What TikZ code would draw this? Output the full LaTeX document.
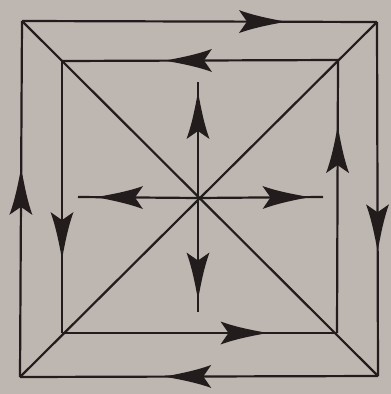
\documentclass[tikz,border=0pt]{standalone}
\usetikzlibrary{decorations.markings}
\definecolor{bg}{RGB}{190,182,176}
\definecolor{ink}{RGB}{34,28,28}
\tikzset{
  ln/.style={draw=ink, line width=2.2pt},
  dartat/.style={postaction={decorate, decoration={markings,
     mark=at position #1 with {\fill[ink] (24,0) .. controls (8,3) and (-8,6) .. (-23,11.5)
        -- (-15,0) -- (-23,-11.5) .. controls (-8,-6) and (8,-3) .. (24,0) -- cycle;}}}}
}
\begin{document}
\begin{tikzpicture}[x=1pt,y=-1pt]
\fill[bg] (0,0) rectangle (391,394);
\useasboundingbox (0,0) rectangle (391,394);
% outer corners
\coordinate (OTL) at (22,21);
\coordinate (OTR) at (377,22);
\coordinate (OBR) at (378,376);
\coordinate (OBL) at (20,377);
% inner corners
\coordinate (ITL) at (62,61);
\coordinate (ITR) at (338,60);
\coordinate (IBR) at (337,333);
\coordinate (IBL) at (62,333);
% centre and cross ends
\coordinate (C) at (198,198);
\coordinate (CU) at (198,82);
\coordinate (CD) at (198,312);
\coordinate (CL) at (78,197);
\coordinate (CR) at (323,197);
% diagonals
\draw[ln] (OTL) -- (OBR);
\draw[ln] (OTR) -- (OBL);
% outer square
\draw[ln, dartat=0.676] (OTL) -- (OTR);
\draw[ln, dartat=0.58] (OTR) -- (OBR);
\draw[ln, dartat=0.53] (OBR) -- (OBL);
\draw[ln, dartat=0.52] (OBL) -- (OTL);
% inner square
\draw[ln, dartat=0.54] (ITR) -- (ITL);
\draw[ln, dartat=0.64] (ITL) -- (IBL);
\draw[ln, dartat=0.66] (IBL) -- (IBR);
\draw[ln, dartat=0.67] (IBR) -- (ITR);
% cross
\draw[ln, dartat=0.707] (C) -- (CU);
\draw[ln, dartat=0.68] (C) -- (CD);
\draw[ln, dartat=0.65] (C) -- (CL);
\draw[ln, dartat=0.70] (C) -- (CR);
\end{tikzpicture}
\end{document}
